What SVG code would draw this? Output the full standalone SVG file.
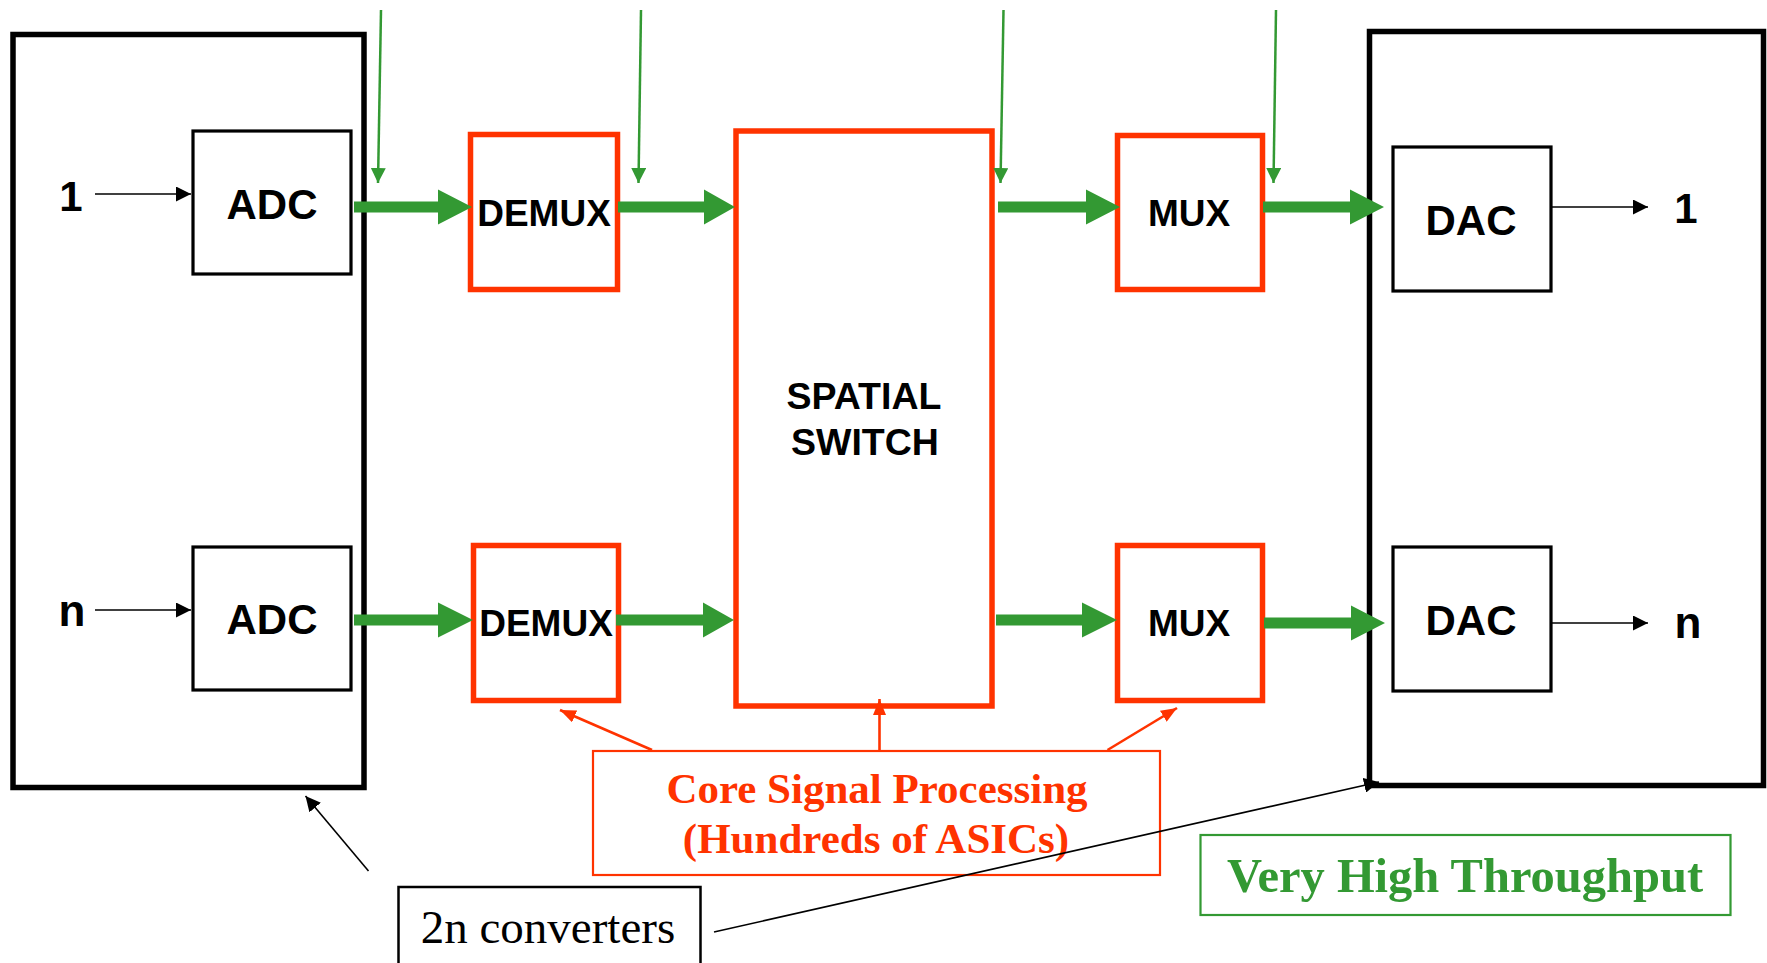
<svg xmlns="http://www.w3.org/2000/svg" width="1767" height="963" viewBox="0 0 1767 963">
<style>
.frame{fill:none;stroke:#000;stroke-width:5.5}
.blk{fill:#fff;stroke:#000;stroke-width:3.2}
.rblk{fill:#fff;stroke:#FF3300;stroke-width:5.5}
.lbl{font-family:"Liberation Sans",Arial,sans-serif;font-weight:bold;fill:#000;text-anchor:middle}
.big{fill:#339933}
.thin{stroke:#339933;stroke-width:2.5;fill:none}
.blk-ln{stroke:#000;stroke-width:1.6;fill:none}
.red-ln{stroke:#FF3300;stroke-width:2.6;fill:none}
.note{font-family:"Liberation Serif","Times New Roman",serif;text-anchor:middle}
</style>
<defs>
<marker id="gh" viewBox="0 0 15 15" refX="15" refY="7.5" markerWidth="15" markerHeight="15" markerUnits="userSpaceOnUse" orient="auto"><path d="M0,0 L15,7.5 L0,15 Z" fill="#339933"/></marker>
<marker id="bh" viewBox="0 0 15 15" refX="15" refY="7.5" markerWidth="15" markerHeight="15" markerUnits="userSpaceOnUse" orient="auto"><path d="M0,0 L15,7.5 L0,15 Z" fill="#000"/></marker>
<marker id="rh" viewBox="0 0 16 13" refX="16" refY="6.5" markerWidth="16" markerHeight="13" markerUnits="userSpaceOnUse" orient="auto"><path d="M0,0 L16,6.5 L0,13 Z" fill="#FF3300"/></marker>
</defs>

<g id="left-converters">
<rect class="frame" x="13" y="34.5" width="351" height="753"/>
</g>
<g id="right-converters">
<rect class="frame" x="1369.5" y="31.5" width="394" height="754"/>
</g>

<g id="adc1"><rect class="blk" x="193" y="131" width="158" height="143"/><text class="lbl" x="272" y="219" font-size="42">ADC</text></g>
<g id="adcn"><rect class="blk" x="193" y="547" width="158" height="143"/><text class="lbl" x="272" y="634" font-size="42">ADC</text></g>
<g id="demux1"><rect class="rblk" x="470.5" y="134.5" width="147" height="155"/><text class="lbl" x="544" y="226" font-size="37">DEMUX</text></g>
<g id="demuxn"><rect class="rblk" x="473.5" y="545.5" width="145" height="155"/><text class="lbl" x="546" y="636" font-size="37">DEMUX</text></g>
<g id="switch"><rect class="rblk" x="736" y="131" width="256" height="575" stroke-width="6"/><text class="lbl" x="864" y="409" font-size="37.5">SPATIAL</text><text class="lbl" x="865" y="455" font-size="37.5">SWITCH</text></g>
<g id="mux1"><rect class="rblk" x="1117.5" y="135.5" width="145" height="154"/><text class="lbl" x="1189" y="226" font-size="37">MUX</text></g>
<g id="muxn"><rect class="rblk" x="1117.5" y="545.5" width="145" height="155"/><text class="lbl" x="1189" y="636" font-size="37">MUX</text></g>
<g id="dac1"><rect class="blk" x="1393" y="147" width="158" height="144"/><text class="lbl" x="1471" y="235" font-size="42">DAC</text></g>
<g id="dacn"><rect class="blk" x="1393" y="547" width="158" height="144"/><text class="lbl" x="1471" y="635" font-size="42">DAC</text></g>

<g id="io-labels">
<text class="lbl" x="71" y="211" font-size="42">1</text>
<text class="lbl" x="72" y="626" font-size="44">n</text>
<text class="lbl" x="1686" y="223" font-size="42">1</text>
<text class="lbl" x="1688" y="638" font-size="44">n</text>
</g>

<g id="core-note">
<rect x="593" y="751" width="567" height="124" fill="#fff" stroke="#FF3300" stroke-width="2.2"/>
<text class="note" x="877" y="803" font-size="43" font-weight="bold" fill="#FF3300">Core Signal Processing</text>
<text class="note" x="876" y="853" font-size="43" font-weight="bold" fill="#FF3300">(Hundreds of ASICs)</text>
</g>
<g id="converters-note">
<rect x="398.5" y="887" width="302" height="90" fill="#fff" stroke="#000" stroke-width="2.5"/>
<text class="note" x="548" y="943" font-size="47" fill="#000">2n converters</text>
</g>
<g id="throughput-note">
<rect x="1200.5" y="835" width="530" height="80" fill="#fff" stroke="#339933" stroke-width="2.2"/>
<text class="note" x="1465" y="892" font-size="48.5" font-weight="bold" fill="#339933">Very High Throughput</text>
</g>

<g id="connectors">
<line class="blk-ln" x1="95" y1="194" x2="191" y2="194" marker-end="url(#bh)"/>
<line class="blk-ln" x1="95" y1="610" x2="191" y2="610" marker-end="url(#bh)"/>
<line class="blk-ln" x1="1552" y1="207" x2="1648" y2="207" marker-end="url(#bh)"/>
<line class="blk-ln" x1="1552" y1="623" x2="1648" y2="623" marker-end="url(#bh)"/>

<polygon class="big" points="354,201.5 438,201.5 438,189.5 472,207 438,224.5 438,212.5 354,212.5"/>
<polygon class="big" points="618,201.5 704,201.5 704,189.5 735,207 704,224.5 704,212.5 618,212.5"/>
<polygon class="big" points="998,201.5 1086,201.5 1086,189.5 1120,207 1086,224.5 1086,212.5 998,212.5"/>
<polygon class="big" points="1263,201.5 1350,201.5 1350,189.5 1384,207 1350,224.5 1350,212.5 1263,212.5"/>
<polygon class="big" points="354,614.5 438,614.5 438,602.5 473,620 438,637.5 438,625.5 354,625.5"/>
<polygon class="big" points="616,614.5 703,614.5 703,602.5 734,620 703,637.5 703,625.5 616,625.5"/>
<polygon class="big" points="996,614.5 1082,614.5 1082,602.5 1117,620 1082,637.5 1082,625.5 996,625.5"/>
<polygon class="big" points="1264,617.5 1351,617.5 1351,605.5 1385,623 1351,640.5 1351,628.5 1264,628.5"/>

<line class="thin" x1="381" y1="10" x2="378" y2="183" marker-end="url(#gh)"/>
<line class="thin" x1="641" y1="10" x2="638.5" y2="183" marker-end="url(#gh)"/>
<line class="thin" x1="1003.5" y1="10" x2="1000.5" y2="183" marker-end="url(#gh)"/>
<line class="thin" x1="1276" y1="10" x2="1273.5" y2="183" marker-end="url(#gh)"/>

<line class="red-ln" x1="652" y1="750" x2="560" y2="710" marker-end="url(#rh)"/>
<line class="red-ln" x1="879.5" y1="750" x2="879.5" y2="699" marker-end="url(#rh)"/>
<line class="red-ln" x1="1107.5" y1="750" x2="1177" y2="708" marker-end="url(#rh)"/>

<line class="blk-ln" x1="368.5" y1="871" x2="305.5" y2="796" stroke-width="2.2" marker-end="url(#bh)"/>
<line class="blk-ln" x1="714" y1="932" x2="1379" y2="782" stroke-width="2.2" marker-end="url(#bh)"/>
</g>
</svg>
